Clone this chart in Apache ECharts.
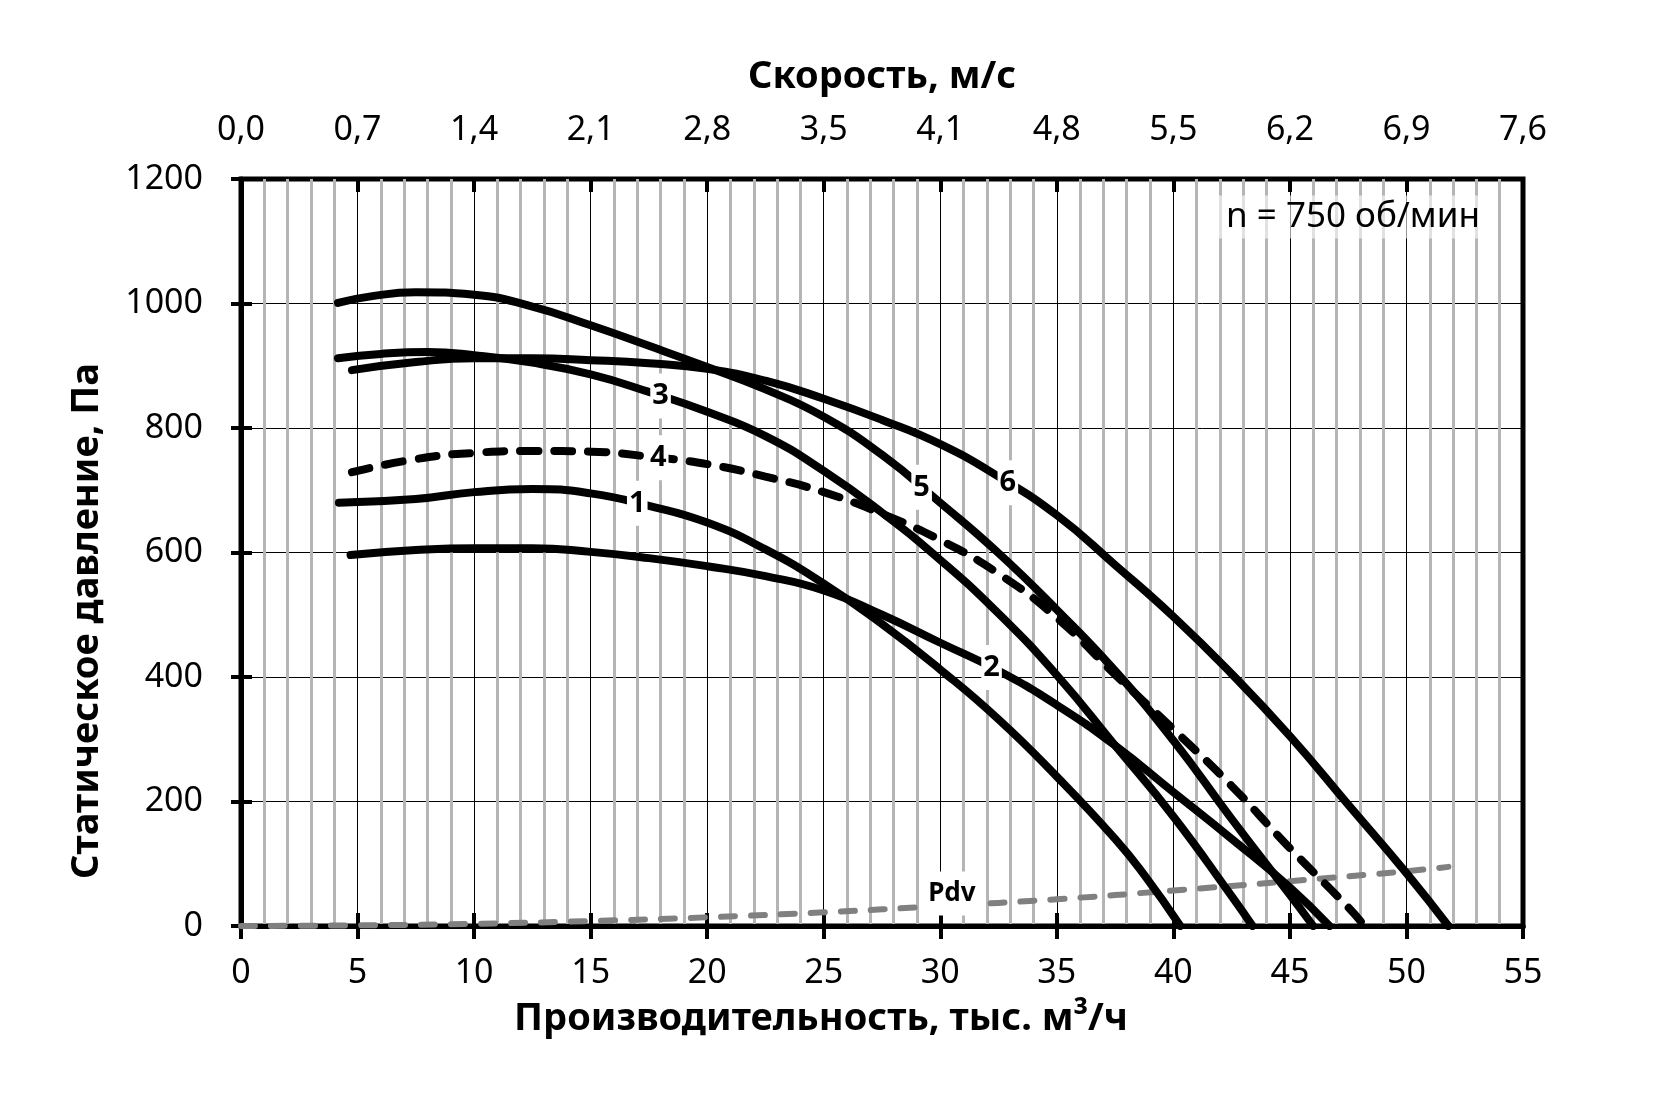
<!DOCTYPE html>
<html>
<head>
<meta charset="utf-8">
<script src="https://cdn.jsdelivr.net/npm/echarts@6/dist/echarts.min.js"></script>
<style>
html,body{margin:0;padding:0;background:#fff;}
#c{width:1654px;height:1103px;}
</style>
</head>
<body>
<div id="c"></div>
<script>
// Flow, thousand m3/h (x) vs static pressure, Pa (y)
const curve1 = [[4.2,680],[7.5,686],[10,697],[12.5,702],[15,695],[17.5,675],[20,648],[22.5,605],[25,550],[27.5,485],[30,412],[32.5,332],[35,240],[37.5,140],[38.75,82],[40.3,0]];
const curve2 = [[4.7,596],[7.5,604],[10,607],[12.5,607],[15,601],[17.5,591],[20,578],[22.5,562],[25,539],[27.5,500],[30,455],[32.5,410],[35,355],[37.5,290],[40,215],[42.5,140],[45,62],[46.7,0]];
const curve3 = [[4.16,912],[6,919],[8,922],[10,917],[12.5,905],[15,886],[17.5,858],[20,826],[22.5,787],[25,731],[27.5,664],[30,588],[32.5,502],[35,403],[37.5,290],[40,176],[42.5,48],[43.4,0]];
const curve4 = [[4.76,729],[7.5,750],[10,760],[12.5,763],[15,762],[17.5,754],[20,742],[22.5,722],[25,697],[27.5,662],[30,620],[32.5,566],[35,495],[37.5,404],[40,316],[42.5,225],[45,125],[47.5,30],[48.2,0]];
const curve5 = [[4.16,1001],[5.5,1011],[7.5,1018],[10,1014],[12.5,995],[15,965],[17.5,932],[20,898],[22.5,862],[25,818],[27.5,757],[30,680],[32.5,599],[35,508],[37.5,410],[40,298],[42.5,172],[45,50],[46,0]];
const curve6 = [[4.76,893],[7.5,906],[10,912],[12.5,912],[15,909],[17.5,904],[20,895],[22.5,876],[25,847],[27.5,813],[30,774],[32.5,722],[35,660],[37.5,580],[40,497],[42.5,405],[45,305],[47.5,195],[50,85],[51.8,0]];
const pdv = [[0,0],[5,1],[10,3.5],[15,8],[20,14],[25,22],[30,32],[35,43],[40,57],[45,72],[50,88],[51.8,95]];

// Curve name labels: text and flow at which the label sits on the curve
const labelNames = ['1','2','3','4','5','6','Pdv'];
const labelFlows = [17, 32.2, 18, 17.9, 29.2, 32.9, 30.5];

// Top axis: air speed labels, m/s (one per flow tick)
const speedLabels = ['0,0','0,7','1,4','2,1','2,8','3,5','4,1','4,8','5,5','6,2','6,9','7,6'];

const FONT = 'Noto Sans';
const curves = [curve1, curve2, curve3, curve4, curve5, curve6, pdv];

function interp(data, x) {
  for (let i = 0; i < data.length - 1; i++) {
    const a = data[i], b = data[i+1];
    if (x >= a[0] && x <= b[0]) {
      return a[1] + (b[1]-a[1]) * (x - a[0]) / (b[0]-a[0]);
    }
  }
  return data[data.length-1][1];
}

const chart = echarts.init(document.getElementById('c'), null, {renderer:'canvas'});

const common = {type:'value', min:0, max:55, interval:5};
const solid = {color:'#000', width:8, cap:'round', join:'round'};

function lineSeries(data, style) {
  return {type:'line', xAxisIndex:0, yAxisIndex:0, data:data, showSymbol:false, symbol:'none',
    smooth:0.5, lineStyle:style, silent:true, z:3, animation:false};
}

const labelData = labelNames.map((n, i) => ({
  value:[labelFlows[i], interp(curves[i], labelFlows[i])],
  label:{formatter:n, offset: n === 'Pdv' ? [0,-12] : [0,0],
         fontSize: n === 'Pdv' ? 26 : 29, padding: n === 'Pdv' ? [10,6,8,6] : [8,2,8,2]}
}));

chart.setOption({
  animation:false,
  backgroundColor:'#fff',
  grid:{left:241, right:131, top:179, bottom:177, show:true, borderColor:'#000', borderWidth:5, backgroundColor:'transparent'},
  xAxis:[
    Object.assign({}, common, {
      position:'bottom',
      axisLine:{lineStyle:{color:'#000', width:5}},
      axisTick:{length:13, lineStyle:{color:'#000', width:4}},
      axisLabel:{margin:30, fontSize:34, color:'#000', fontFamily:FONT},
      splitLine:{show:true, lineStyle:{color:'#000', width:1}},
      minorTick:{show:false, splitNumber:5},
      minorSplitLine:{show:true, lineStyle:{color:'#b5b5b5', width:3}}
    }),
    Object.assign({}, common, {
      position:'top',
      axisLine:{lineStyle:{color:'#000', width:5}},
      axisTick:{length:13, lineStyle:{color:'#000', width:4}},
      axisLabel:{margin:32, fontSize:34, color:'#000', fontFamily:FONT,
        formatter:function(v){ return speedLabels[Math.round(v/5)]; }},
      splitLine:{show:false}
    }),
    Object.assign({}, common, {
      position:'bottom', axisLine:{show:false}, axisLabel:{show:false}, splitLine:{show:false},
      axisTick:{inside:true, length:13, lineStyle:{color:'#000', width:4}}
    }),
    Object.assign({}, common, {
      position:'top', axisLine:{show:false}, axisLabel:{show:false}, splitLine:{show:false},
      axisTick:{inside:true, length:13, lineStyle:{color:'#000', width:4}}
    })
  ],
  yAxis:[
    {type:'value', min:0, max:1200, interval:200, position:'left',
      axisLine:{show:true, lineStyle:{color:'#000', width:5}},
      axisTick:{show:true, length:10, lineStyle:{color:'#000', width:4}},
      axisLabel:{margin:38, fontSize:34, color:'#000', fontFamily:FONT, formatter:function(v){ return String(v); }},
      splitLine:{show:true, lineStyle:{color:'#000', width:1}}},
    {type:'value', min:0, max:1200, interval:200, position:'left',
      axisLine:{show:false}, axisLabel:{show:false}, splitLine:{show:false},
      axisTick:{show:true, inside:true, length:11, lineStyle:{color:'#000', width:4}}}
  ],
  series:[
    lineSeries(pdv, {color:'#808080', width:6, type:[14,16], cap:'round'}),
    lineSeries(curve1, solid),
    lineSeries(curve2, solid),
    lineSeries(curve3, solid),
    lineSeries(curve5, solid),
    lineSeries(curve6, solid),
    lineSeries(curve4, {color:'#000', width:8, type:[18,16], cap:'round'}),
    {type:'scatter', xAxisIndex:0, yAxisIndex:0, data:labelData, symbol:'circle', symbolSize:1,
      itemStyle:{color:'#fff', opacity:1}, z:10, silent:true, animation:false,
      label:{show:true, position:'inside', color:'#000', opacity:1, fontWeight:'bold', fontFamily:FONT,
        textBorderWidth:0, textBorderColor:'#fff', backgroundColor:'#fff'}}
  ],
  graphic:[
    {type:'text', x:882, y:77, style:{text:'Скорость, м/с', font:'bold 38px "Noto Sans"', fill:'#000', textAlign:'center', textVerticalAlign:'middle'}},
    {type:'text', x:821, y:1019, style:{text:'Производительность, тыс. м³/ч', font:'bold 38px "Noto Sans"', fill:'#000', textAlign:'center', textVerticalAlign:'middle'}},
    {type:'text', x:87, y:621, rotation:Math.PI/2, style:{text:'Статическое давление, Па', font:'bold 38px "Noto Sans"', fill:'#000', textAlign:'center', textVerticalAlign:'middle'}},
    {type:'text', x:1353, y:217, z:20, style:{text:'n = 750 об/мин', font:'35px "Noto Sans"', fill:'#000', textAlign:'center', textVerticalAlign:'middle',
      backgroundColor:'rgba(255,255,255,0.6)', padding:[4,12,4,12]}}
  ]
});
</script>
</body>
</html>
